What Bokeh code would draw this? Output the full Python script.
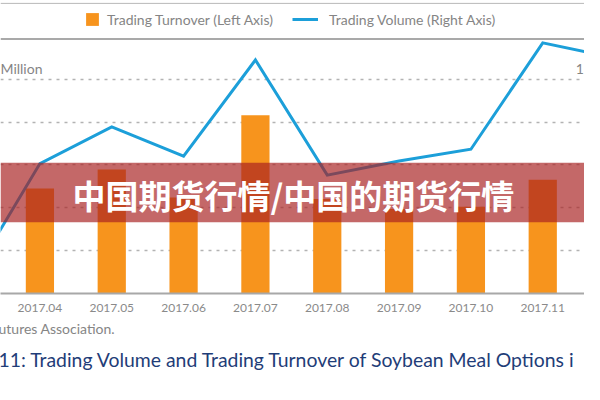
from bokeh.plotting import figure
from bokeh.models import (Range1d, FixedTicker, Span, BoxAnnotation, Label,
                          Legend, LegendItem, Title)
from bokeh.embed import file_html
from bokeh.resources import INLINE

# ---------------- data ----------------
months = ["2017.03", "2017.04", "2017.05", "2017.06", "2017.07",
          "2017.08", "2017.09", "2017.10", "2017.11", "2017.12"]
bar_months = ["2017.04", "2017.05", "2017.06", "2017.07",
              "2017.08", "2017.09", "2017.10", "2017.11"]
turnover = [245, 289, 224, 416, 220, 197, 202, 265]          # left axis (RMB Million)
volume = [4.4, 60.6, 77.7, 64.1, 109.0, 55.2, 61.8, 67.3, 117.0, 110.0]  # right axis
grid_ticks = [100, 200, 300, 400, 500]

legend_bar = "Trading Turnover (Left Axis)"
legend_line = "Trading Volume (Right Axis)"
banner_text = "中国期货行情/中国的期货行情"
unit_left = "Million"
unit_right = "1"
source_text = "utures Association."
caption_text = "11: Trading Volume and Trading Turnover of Soybean Meal Options i"

# ---------------- layout helpers (reference px -> figure) ----------------
W, H = 584, 384
SX, SY = W / 600.0, H / 400.0
BOTTOM = 91
FRAME_H = H - BOTTOM               # frame covers reference y 0 .. FRAME_H/SY
REF_BASE = 305.0                   # reference y of the zero line
REF_STEP = 44.6                    # reference px per grid step (100)


def yval(ref_y):
    return (REF_BASE - ref_y) / REF_STEP * 100.0


X0, XSTEP = 40.5, 73.8              # reference x of 2017.04 and month spacing


def xval(ref_x):
    return 1 + (ref_x - X0) / XSTEP


y_lo = yval(FRAME_H / SY)
y_hi = yval(0)

p = figure(width=W, height=H, output_backend="svg", toolbar_location=None,
           x_range=Range1d(xval(0), xval(600)),
           y_range=Range1d(y_lo, y_hi),
           y_axis_location=None,
           min_border_left=0, min_border_right=0, min_border_top=0,
           min_border_bottom=BOTTOM, outline_line_color=None,
           background_fill_color="white", border_fill_color="white")
p.extra_y_ranges = {"vol": Range1d(y_lo / 5.0, y_hi / 5.0)}

# grid
p.xgrid.visible = False
p.ygrid.ticker = FixedTicker(ticks=grid_ticks)
p.ygrid.grid_line_color = "#b3b3b3"
p.ygrid.grid_line_width = 1.6
p.ygrid.grid_line_dash = "3 5"

# x axis
idx = list(range(len(months)))
p.xaxis.ticker = FixedTicker(ticks=idx)
p.xaxis.major_label_overrides = {i: m for i, m in zip(idx, months)}
p.xaxis.axis_line_color = "#a8a8a8"
p.xaxis.axis_line_width = 2
p.xaxis.major_tick_line_color = None
p.xaxis.minor_tick_line_color = None
p.xaxis.major_tick_out = 0
p.xaxis.major_tick_in = 0
p.xaxis.major_label_standoff = 10
p.xaxis.major_label_text_font = "Lato"
p.xaxis.major_label_text_font_size = "12px"
p.xaxis.major_label_text_color = "#8a8a8a"

bar_x = [months.index(m) for m in bar_months]
bars = p.vbar(x=bar_x, top=turnover, bottom=0, width=0.393,
              fill_color="#f7941d", line_color=None)
line = p.line(x=idx, y=volume, y_range_name="vol",
              line_color="#1c9fd9", line_width=3, line_join="miter")

# top rules
p.add_layout(Span(location=yval(3), dimension="width",
                  line_color="#b8b8b8", line_width=1))
p.add_layout(Span(location=yval(40), dimension="width",
                  line_color="#a9a9a9", line_width=2))

# legends
leg_y = FRAME_H - 27.5
common = dict(padding=0, margin=0, border_line_color=None,
              background_fill_alpha=0, label_text_font="Lato",
              label_text_font_size="14px", label_text_color="#858585",
              label_height=16, glyph_height=16)
lg1 = Legend(items=[LegendItem(label=legend_bar, renderers=[bars])],
             location=(84, leg_y), glyph_width=16, label_standoff=7, **common)
lg2 = Legend(items=[LegendItem(label=legend_line, renderers=[line])],
             location=(292, leg_y), glyph_width=26, label_standoff=11, **common)
p.add_layout(lg1, "center")
p.add_layout(lg2, "center")

# unit labels
p.add_layout(Label(x=xval(0), y=yval(71), text=unit_left, text_font="Lato",
                   text_font_size="14px", text_color="#858585",
                   text_baseline="alphabetic"))
p.add_layout(Label(x=xval(591), y=yval(71), text=unit_right, text_font="Lato",
                   text_font_size="14px", text_color="#858585",
                   text_baseline="alphabetic"))

# banner
p.add_layout(BoxAnnotation(top=yval(169), bottom=yval(231),
                           fill_color=(168, 32, 32), fill_alpha=0.68,
                           line_color=None))
p.add_layout(Label(x=xval(301), y=yval(203), text=banner_text,
                   text_font="Noto Sans CJK SC", text_font_size="33px",
                   text_font_style="bold", text_color="white",
                   text_align="center", text_baseline="middle"))

# footer texts
p.add_layout(Title(text=source_text, align="left", text_font="Lato",
                   text_font_size="14px", text_color="#858585",
                   text_font_style="normal", standoff=6, offset=-2), "below")
p.add_layout(Title(text=caption_text, align="left", text_font="Lato",
                   text_font_size="19.4px", text_color="#1f3d78",
                   text_font_style="normal", standoff=13, offset=-2), "below")

open("out.html", "w").write(file_html(p, INLINE))
